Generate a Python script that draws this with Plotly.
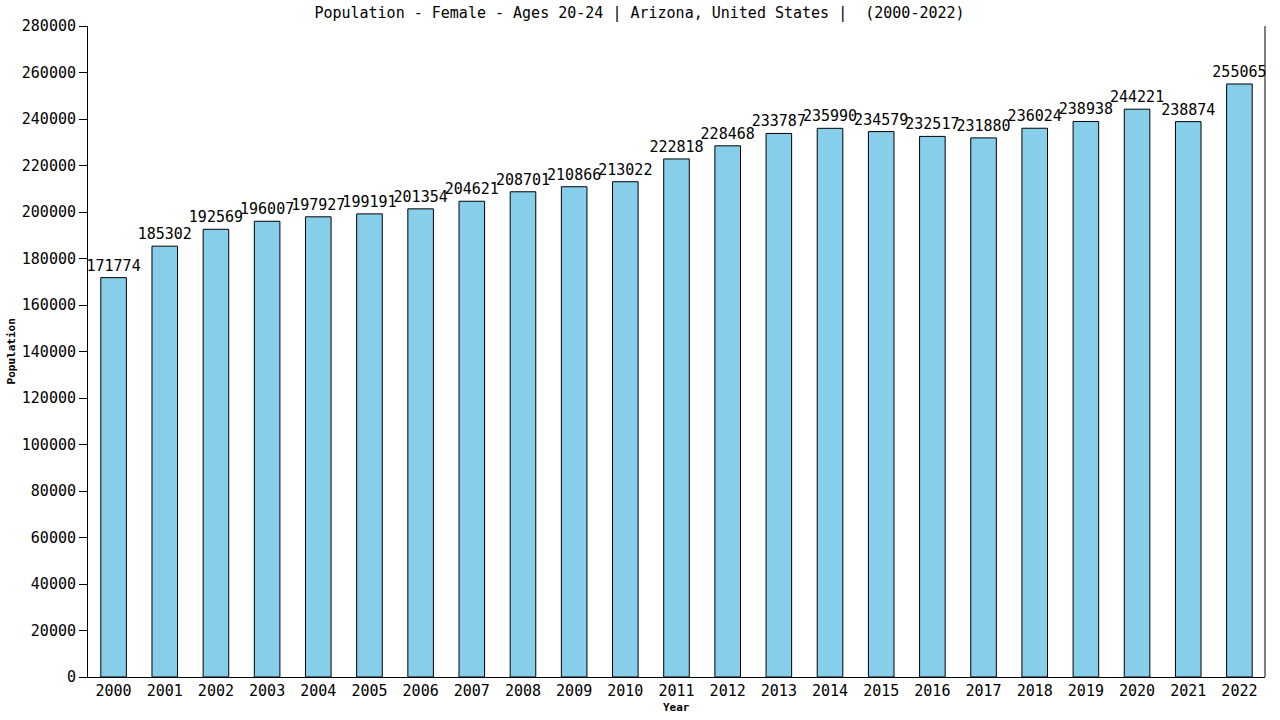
import plotly.graph_objects as go

years = [str(y) for y in range(2000, 2023)]
population = [171774, 185302, 192569, 196007, 197927, 199191, 201354, 204621,
              208701, 210866, 213022, 222818, 228468, 233787, 235990, 234579,
              232517, 231880, 236024, 238938, 244221, 238874, 255065]
y_ticks = list(range(0, 280001, 20000))

font = "DejaVu Sans Mono"

fig = go.Figure()

fig.add_trace(go.Bar(
    x=years,
    y=population,
    text=[str(v) for v in population],
    textposition="outside",
    constraintext="none",
    textfont=dict(family=font, size=15, color="black"),
    cliponaxis=False,
    marker=dict(color="#87ceeb", line=dict(color="black", width=1)),
))

fig.update_layout(
    title=dict(text="Population - Female - Ages 20-24 | Arizona, United States |  (2000-2022)",
               x=0.4996, xanchor="center", y=0.982, yanchor="middle",
               font=dict(family=font, size=15, color="black")),
    width=1280,
    height=720,
    margin=dict(l=88, r=15, t=26, b=43, autoexpand=False),
    plot_bgcolor="white",
    paper_bgcolor="white",
    bargap=0.5,
    showlegend=False,
    font=dict(family=font, size=15, color="black"),
)

fig.update_xaxes(
    type="category",
    range=[-0.5, 22.5],
    automargin=False,
    showline=True, linecolor="black", linewidth=1,
    ticks="",
    showgrid=False,
    tickfont=dict(family=font, size=15),
)

fig.update_yaxes(
    range=[0, 280000],
    automargin=False,
    tickvals=y_ticks,
    ticktext=[str(v) for v in y_ticks],
    showline=True, linecolor="black", linewidth=1,
    ticks="outside", ticklen=8, tickcolor="black",
    showgrid=False, zeroline=False,
    tickfont=dict(family=font, size=15),
)

# axis titles placed by hand
fig.add_annotation(text="<b>Year</b>", xref="paper", yref="paper", x=0.5, y=-0.0476,
                   xanchor="center", yanchor="middle", showarrow=False,
                   font=dict(family=font, size=11, color="black"))
fig.add_annotation(text="<b>Population</b>", xref="paper", yref="paper", x=-0.0646, y=0.5,
                   xanchor="center", yanchor="middle", textangle=-90, showarrow=False,
                   font=dict(family=font, size=11, color="black"))

# right border line
fig.add_shape(type="line", xref="paper", yref="paper", x0=1, x1=1, y0=0, y1=1,
              line=dict(color="black", width=1))

fig.write_html("out.html", config={"displayModeBar": False},
               post_script="document.body.style.margin='0';")
